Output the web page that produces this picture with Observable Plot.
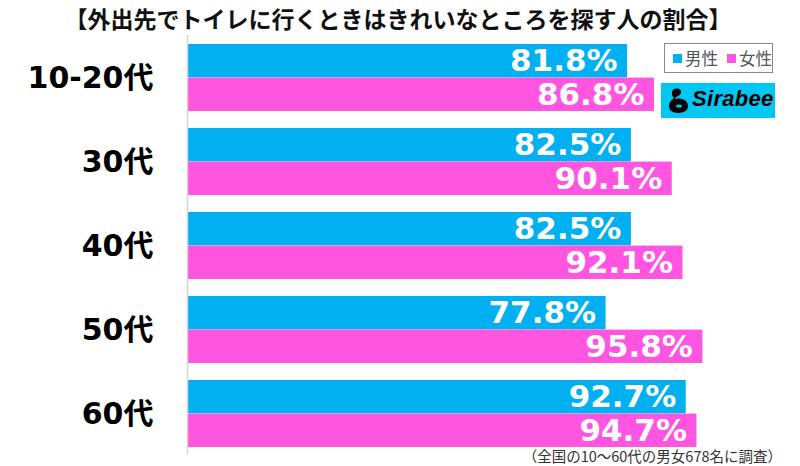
<!DOCTYPE html>
<html>
<head>
<meta charset="utf-8">
<script src="https://cdn.jsdelivr.net/npm/d3@7"></script>
<script src="https://cdn.jsdelivr.net/npm/@observablehq/plot@0.6"></script>
<style>
  body { margin: 0; background: #fff; }
  #wrap { position: relative; width: 800px; height: 466px; overflow: hidden; background: #fff; }
  #title { position: absolute; left: 0; top: 4px; width: 796px; text-align: center; font-family: "Noto Sans CJK JP", sans-serif; font-weight: bold; font-size: 23px; color: #111; line-height: 28px; white-space: nowrap; }
  #legend { position: absolute; left: 664px; top: 43px; width: 107px; height: 28px; border: 1px solid #8a8a8a; box-sizing: content-box; font-family: "Noto Sans CJK JP", sans-serif; font-size: 16.5px; color: #555; display: flex; align-items: center; white-space: nowrap; }
  #legend .sw { display: inline-block; width: 9px; height: 9px; margin: 0 3px 0 0; }
  #legend .item { display: inline-flex; align-items: center; margin-left: 8px; }
  #legend .item + .item { margin-left: 9px; }
  #logo { position: absolute; left: 661px; top: 83px; width: 114px; height: 35px; background: #00c6f4; }
  #logo .txt { position: absolute; left: 31px; top: 3px; font-family: "Liberation Sans", Arial, sans-serif; font-weight: bold; font-style: italic; font-size: 22px; color: #000; letter-spacing: 0.3px; }
  #logo svg.icon { position: absolute; left: 7px; top: 5px; }
  #note { position: absolute; right: 18px; top: 447px; font-family: "Noto Sans CJK JP", sans-serif; font-size: 14.5px; color: #333; line-height: 18px; white-space: nowrap; }
</style>
</head>
<body>
<div id="wrap">
  <div id="title"></div>
  <div id="chart"></div>
  <div id="legend"></div>
  <div id="logo">
    <svg class="icon" width="22" height="26" viewBox="0 0 22 26">
      <path d="M5 2 C9 -1 14 1 13 5 C12 8 8 8 7 11 C13 9 20 12 20 18 C20 23 15 25 10 25 C4 25 1 22 1 18 C1 14 4 12 6 10 C4 8 3 4 5 2 Z" fill="#000"/>
      <ellipse cx="11" cy="18" rx="3" ry="1.6" fill="#00c6f4"/>
    </svg>
    <div class="txt">Sirabee</div>
  </div>
  <div id="note"></div>
</div>
<script>
const titleText = "【外出先でトイレに行くときはきれいなところを探す人の割合】";
const noteText = "（全国の10～60代の男女678名に調査）";
const ages = ["10-20代", "30代", "40代", "50代", "60代"];
const seriesNames = ["男性", "女性"];
const seriesColors = ["#00b0f0", "#ff55e1"];
const maleValues = [81.8, 82.5, 82.5, 77.8, 92.7];
const femaleValues = [86.8, 90.1, 92.1, 95.8, 94.7];

document.getElementById("title").textContent = titleText;
document.getElementById("note").textContent = noteText;

const legend = document.getElementById("legend");
seriesNames.forEach((name, i) => {
  const item = document.createElement("span");
  item.className = "item";
  const sw = document.createElement("span");
  sw.className = "sw";
  sw.style.background = seriesColors[i];
  item.appendChild(sw);
  item.appendChild(document.createTextNode(name));
  legend.appendChild(item);
});

const data = ages.map((age, i) => ({age, male: maleValues[i], female: femaleValues[i]}));
const fmt = v => v.toFixed(1) + "%";
const bandHalf = 33.6;

const chart = Plot.plot({
  width: 800,
  height: 466,
  marginLeft: 187,
  marginRight: 75,
  marginTop: 35,
  marginBottom: 12,
  x: {domain: [0, 100], axis: null},
  y: {domain: ages, axis: null, paddingInner: 0.2, paddingOuter: 0.094, align: 0.57},
  marks: [
    Plot.barX(data, {x: "male", y: "age", fill: seriesColors[0], insetBottom: bandHalf}),
    Plot.barX(data, {x: "female", y: "age", fill: seriesColors[1], insetTop: bandHalf}),
    Plot.ruleX([0], {stroke: "#d4d4d4", strokeWidth: 1.5}),
    Plot.text(data, {x: "male", y: "age", text: d => fmt(d.male), dx: -10, dy: -16.8, textAnchor: "end", fill: "#fff", fontSize: 31, fontWeight: "bold", fontFamily: "DejaVu Sans"}),
    Plot.text(data, {x: "female", y: "age", text: d => fmt(d.female), dx: -10, dy: 16.8, textAnchor: "end", fill: "#fff", fontSize: 31, fontWeight: "bold", fontFamily: "DejaVu Sans"}),
    Plot.text(ages, {y: d => d, text: d => d, frameAnchor: "left", dx: -34, textAnchor: "end", fill: "#000", fontSize: 30, fontWeight: "bold", fontFamily: "DejaVu Sans, Noto Sans CJK JP"})
  ]
});
chart.style.position = "absolute";
chart.style.left = "0";
chart.style.top = "0";
document.getElementById("chart").appendChild(chart);
</script>
</body>
</html>
